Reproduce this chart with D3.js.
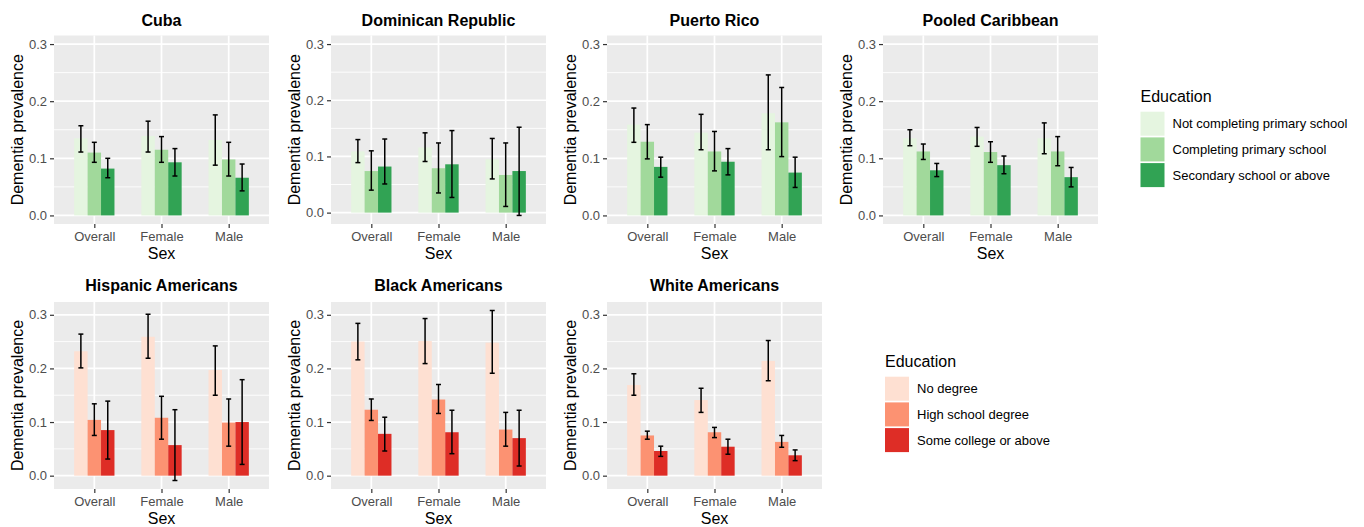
<!DOCTYPE html>
<html>
<head>
<meta charset="utf-8">
<script src="https://cdn.jsdelivr.net/npm/d3@7"></script>
<style>
  body { margin: 0; background: #fff; }
  svg { display: block; font-family: "Liberation Sans", Arial, sans-serif; }
</style>
</head>
<body>
<div id="chart"></div>
<script>
// categories
const sexes = ["Overall", "Female", "Male"];
const caribEdu = ["Not completing primary school", "Completing primary school", "Secondary school or above"];
const usEdu = ["No degree", "High school degree", "Some college or above"];
const greens = ["#E5F5E0", "#A1D99B", "#31A354"];
const reds = ["#FEE0D2", "#FC9272", "#DE2D26"];
const yTicks = [0, 0.1, 0.2, 0.3];

// prevalence [sex][education], with 95% CI lower / upper
const cubaEst = [[0.135, 0.110, 0.082], [0.139, 0.115, 0.093], [0.132, 0.098, 0.066]];
const cubaLo  = [[0.111, 0.093, 0.066], [0.111, 0.093, 0.069], [0.088, 0.069, 0.043]];
const cubaHi  = [[0.157, 0.128, 0.100], [0.165, 0.138, 0.117], [0.176, 0.128, 0.090]];

const domEst = [[0.109, 0.074, 0.082], [0.116, 0.079, 0.086], [0.095, 0.067, 0.074]];
const domLo  = [[0.089, 0.040, 0.051], [0.091, 0.035, 0.027], [0.060, 0.011, -0.005]];
const domHi  = [[0.130, 0.110, 0.131], [0.142, 0.124, 0.146], [0.132, 0.124, 0.152]];

const prEst = [[0.159, 0.129, 0.085], [0.145, 0.112, 0.094], [0.179, 0.163, 0.075]];
const prLo  = [[0.128, 0.099, 0.067], [0.115, 0.078, 0.071], [0.115, 0.103, 0.049]];
const prHi  = [[0.188, 0.159, 0.102], [0.177, 0.147, 0.117], [0.246, 0.224, 0.102]];

const poolEst = [[0.135, 0.112, 0.079], [0.138, 0.111, 0.088], [0.135, 0.112, 0.067]];
const poolLo  = [[0.122, 0.098, 0.068], [0.121, 0.093, 0.073], [0.108, 0.087, 0.050]];
const poolHi  = [[0.150, 0.125, 0.091], [0.154, 0.129, 0.104], [0.162, 0.138, 0.084]];

const hispEst = [[0.232, 0.104, 0.085], [0.259, 0.108, 0.057], [0.197, 0.099, 0.100]];
const hispLo  = [[0.201, 0.075, 0.031], [0.219, 0.068, -0.009], [0.150, 0.055, 0.021]];
const hispHi  = [[0.264, 0.134, 0.139], [0.301, 0.148, 0.123], [0.242, 0.143, 0.179]];

const blackEst = [[0.250, 0.123, 0.078], [0.251, 0.142, 0.081], [0.248, 0.086, 0.070]];
const blackLo  = [[0.216, 0.103, 0.046], [0.209, 0.116, 0.041], [0.191, 0.055, 0.018]];
const blackHi  = [[0.284, 0.143, 0.109], [0.293, 0.170, 0.122], [0.308, 0.118, 0.122]];

const whiteEst = [[0.169, 0.075, 0.046], [0.141, 0.081, 0.054], [0.214, 0.063, 0.038]];
const whiteLo  = [[0.150, 0.068, 0.036], [0.118, 0.071, 0.040], [0.177, 0.053, 0.028]];
const whiteHi  = [[0.190, 0.083, 0.055], [0.163, 0.090, 0.068], [0.252, 0.075, 0.048]];

const panels = [
  {title: "Cuba", est: cubaEst, lo: cubaLo, hi: cubaHi, row: 0, col: 0},
  {title: "Dominican Republic", est: domEst, lo: domLo, hi: domHi, row: 0, col: 1},
  {title: "Puerto Rico", est: prEst, lo: prLo, hi: prHi, row: 0, col: 2},
  {title: "Pooled Caribbean", est: poolEst, lo: poolLo, hi: poolHi, row: 0, col: 3},
  {title: "Hispanic Americans", est: hispEst, lo: hispLo, hi: hispHi, row: 1, col: 0},
  {title: "Black Americans", est: blackEst, lo: blackLo, hi: blackHi, row: 1, col: 1},
  {title: "White Americans", est: whiteEst, lo: whiteLo, hi: whiteHi, row: 1, col: 2}
];

// layout
const W = 1364, H = 527;
const colLeft = [54, 331, 607, 883];
const rowTop = [35.5, 302];
const panelW = 215;
const panelH = [188.5, 187];
const rowColors = [greens, reds];

const svg = d3.select("#chart").append("svg")
  .attr("width", W)
  .attr("height", H);

svg.append("rect").attr("width", W).attr("height", H).attr("fill", "#fff");

// y limits: top row each plot on its own, bottom row shares one scale
function yDomain(p) {
  let group = p.row === 0 ? [p] : panels.filter(q => q.row === 1);
  let lo = d3.min(group, q => d3.min(q.lo.flat()));
  let hi = d3.max(group, q => d3.max(q.hi.flat()));
  lo = Math.min(0, lo);
  hi = Math.max(0.3, hi);
  let pad = (hi - lo) * 0.05;
  return [lo - pad, hi + pad];
}

panels.forEach(function(p) {
  let ph = panelH[p.row];
  let g = svg.append("g")
    .attr("transform", "translate(" + colLeft[p.col] + "," + rowTop[p.row] + ")");

  let y = d3.scaleLinear().domain(yDomain(p)).range([ph, 0]);
  let x = d3.scalePoint().domain(sexes).range([0, panelW]).padding(0.6);
  let step = x.step();
  let dodge = d3.scaleBand().domain([0, 1, 2]).range([-0.3 * step, 0.3 * step]);
  let colors = rowColors[p.row];

  g.append("rect")
    .attr("width", panelW)
    .attr("height", ph)
    .attr("fill", "#EBEBEB");

  // minor grid
  let minor = [0.05, 0.15, 0.25].filter(v => v >= y.domain()[0] && v <= y.domain()[1]);
  g.selectAll(".minor")
    .data(minor)
    .enter().append("line")
    .attr("x1", 0).attr("x2", panelW)
    .attr("y1", d => y(d)).attr("y2", d => y(d))
    .attr("stroke", "#fff")
    .attr("stroke-width", 0.9);

  g.selectAll(".major")
    .data(yTicks)
    .enter().append("line")
    .attr("x1", 0).attr("x2", panelW)
    .attr("y1", d => y(d)).attr("y2", d => y(d))
    .attr("stroke", "#fff")
    .attr("stroke-width", 1.7);

  g.selectAll(".vgrid")
    .data(sexes)
    .enter().append("line")
    .attr("x1", d => x(d)).attr("x2", d => x(d))
    .attr("y1", 0).attr("y2", ph)
    .attr("stroke", "#fff")
    .attr("stroke-width", 1.7);

  // bars + error bars
  let cells = [];
  sexes.forEach(function(s, i) {
    [0, 1, 2].forEach(function(j) {
      cells.push({sex: s, edu: j, est: p.est[i][j], lo: p.lo[i][j], hi: p.hi[i][j]});
    });
  });

  g.selectAll(".bar")
    .data(cells)
    .enter().append("rect")
    .attr("x", d => x(d.sex) + dodge(d.edu))
    .attr("width", dodge.bandwidth())
    .attr("y", d => y(d.est))
    .attr("height", d => y(0) - y(d.est))
    .attr("fill", d => colors[d.edu]);

  let cap = 0.037 * step;
  let eb = g.selectAll(".err")
    .data(cells)
    .enter().append("g")
    .attr("transform", d => "translate(" + (x(d.sex) + dodge(d.edu) + dodge.bandwidth() / 2) + ",0)");

  eb.append("line")
    .attr("x1", 0).attr("x2", 0)
    .attr("y1", d => y(d.lo)).attr("y2", d => y(d.hi))
    .attr("stroke", "#000").attr("stroke-width", 1.5);
  eb.append("line")
    .attr("x1", -cap).attr("x2", cap)
    .attr("y1", d => y(d.lo)).attr("y2", d => y(d.lo))
    .attr("stroke", "#000").attr("stroke-width", 1.5);
  eb.append("line")
    .attr("x1", -cap).attr("x2", cap)
    .attr("y1", d => y(d.hi)).attr("y2", d => y(d.hi))
    .attr("stroke", "#000").attr("stroke-width", 1.5);

  // axes
  let yAxis = g.append("g")
    .call(d3.axisLeft(y).tickValues(yTicks).tickFormat(d3.format(".1f")).tickSize(4).tickPadding(3));
  let xAxis = g.append("g")
    .attr("transform", "translate(0," + ph + ")")
    .call(d3.axisBottom(x).tickSize(4).tickPadding(4));

  [yAxis, xAxis].forEach(function(a) {
    a.select(".domain").remove();
    a.selectAll(".tick line").attr("stroke", "#333").attr("stroke-width", 1.2);
    a.selectAll(".tick text")
      .attr("fill", "#4D4D4D")
      .style("font-size", "13px")
      .style("font-family", "'Liberation Sans', Arial, sans-serif");
  });

  // titles
  g.append("text")
    .attr("x", panelW / 2)
    .attr("y", p.row === 0 ? -15.5 : -17)
    .attr("dy", "0.35em")
    .attr("text-anchor", "middle")
    .style("font-size", "16px")
    .style("font-weight", "bold")
    .text(p.title);

  g.append("text")
    .attr("transform", "translate(-37," + (ph / 2) + ") rotate(-90)")
    .attr("dy", "0.35em")
    .attr("text-anchor", "middle")
    .style("font-size", "16px")
    .text("Dementia prevalence");

  g.append("text")
    .attr("x", panelW / 2)
    .attr("y", ph + 29)
    .attr("dy", "0.35em")
    .attr("text-anchor", "middle")
    .style("font-size", "16px")
    .text("Sex");
});

// legends
function drawLegend(lx, ly, levels, colors) {
  let lg = svg.append("g").attr("transform", "translate(" + lx + "," + ly + ")");
  lg.append("text")
    .attr("x", 0).attr("y", 0)
    .attr("dy", "0.35em")
    .style("font-size", "16px")
    .text("Education");

  let items = lg.selectAll(".item")
    .data(levels)
    .enter().append("g")
    .attr("transform", (d, i) => "translate(0," + (15 + i * 25.7) + ")");

  items.append("rect")
    .attr("width", 24)
    .attr("height", 24)
    .attr("fill", (d, i) => colors[i]);

  items.append("text")
    .attr("x", 32)
    .attr("y", 12)
    .attr("dy", "0.35em")
    .style("font-size", "13px")
    .text(d => d);
}

drawLegend(1140.5, 96.7, caribEdu, greens);
drawLegend(885, 361.7, usEdu, reds);
</script>
</body>
</html>
